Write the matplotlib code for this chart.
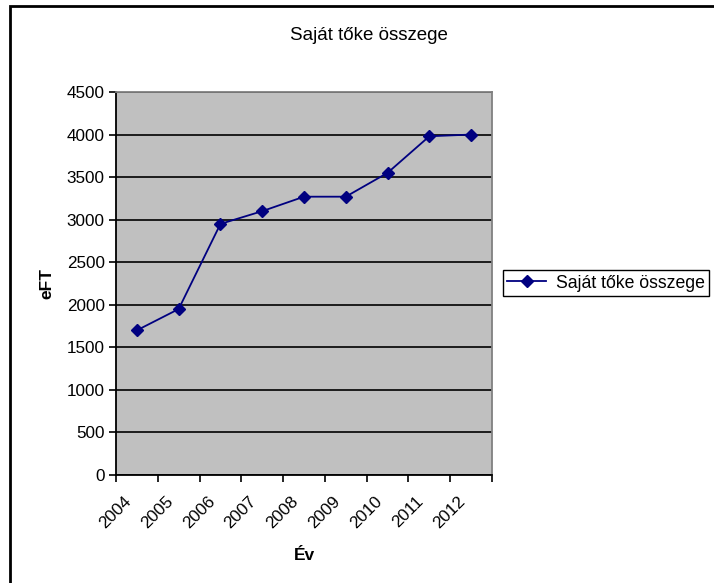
import matplotlib.pyplot as plt
from matplotlib.patches import Rectangle
from matplotlib.transforms import ScaledTranslation
import numpy as np

plt.rcParams["font.family"] = ["Liberation Sans", "DejaVu Sans"]

YEARS = ["2004", "2005", "2006", "2007", "2008", "2009", "2010", "2011", "2012"]
EQUITY = [1700, 1950, 2950, 3100, 3270, 3270, 3550, 3980, 4000]
Y_TICKS = [0, 500, 1000, 1500, 2000, 2500, 3000, 3500, 4000, 4500]

SERIES_LABEL = "Saját tőke összege"
NAVY = "#000080"

W, H = 714, 583
fig = plt.figure(figsize=(W / 100, H / 100), dpi=100)

# plot area in pixels: x 116..492, y 92..475
ax = fig.add_axes([116 / W, 1 - 475 / H, (492 - 116) / W, (475 - 92) / H])
ax.set_facecolor("#C0C0C0")

x = np.arange(len(YEARS)) + 0.5
ax.plot(x, EQUITY, color=NAVY, linewidth=1.3, marker="D", markersize=6,
        markerfacecolor=NAVY, markeredgecolor=NAVY, label=SERIES_LABEL, zorder=3)

ax.set_xlim(0, len(YEARS))
ax.set_ylim(0, 4500)
ax.set_yticks(Y_TICKS)
ax.set_yticklabels([str(v) for v in Y_TICKS], fontsize=12.3)
ax.yaxis.grid(True, color="black", linewidth=1.2)
ax.set_axisbelow(True)

ax.set_xticks(np.arange(len(YEARS) + 1))
ax.set_xticklabels([])
ax.set_xticks(x, minor=True)
ax.set_xticklabels(YEARS, minor=True, rotation=45, ha="right", va="center",
                   rotation_mode="anchor", fontsize=12.3)
ax.tick_params(axis="x", which="minor", length=0, pad=17)
ax.tick_params(axis="x", which="major", length=5, width=1.2, direction="out")
ax.tick_params(axis="y", length=5, width=1.2, direction="out", pad=3)

# nudge the year labels a little to the left, as in the original
shift = ScaledTranslation(-8 / 100, 0, fig.dpi_scale_trans)
for lab in ax.get_xticklabels(minor=True):
    lab.set_transform(lab.get_transform() + shift)

for side in ("left", "bottom"):
    ax.spines[side].set_color("black")
    ax.spines[side].set_linewidth(1.3)
for side in ("right", "top"):
    ax.spines[side].set_color("#808080")
    ax.spines[side].set_linewidth(1.3)

ax.set_xlabel("Év", fontsize=12.5, fontweight="bold", labelpad=12)
ax.set_ylabel("eFT", fontsize=12.5, fontweight="bold", labelpad=9)

fig.text(369 / W, 1 - 36 / H, "Saját tőke összege", ha="center", va="center",
         fontsize=13.5)

leg = fig.legend(loc="center left", bbox_to_anchor=(503 / W, 1 - 283 / H),
                 fontsize=12.7, fancybox=False, framealpha=1, edgecolor="black",
                 handlelength=2.2, borderpad=0.25, handletextpad=0.55,
                 borderaxespad=0)
leg.get_frame().set_linewidth(1.0)

# outer chart frame, runs off the right and bottom edges
fig.patches.append(Rectangle((10 / W, -0.05), 1.1, 1 - 6 / H + 0.05,
                             transform=fig.transFigure, fill=False,
                             edgecolor="black", linewidth=2, zorder=0))

fig.savefig("out.png", dpi=100)
